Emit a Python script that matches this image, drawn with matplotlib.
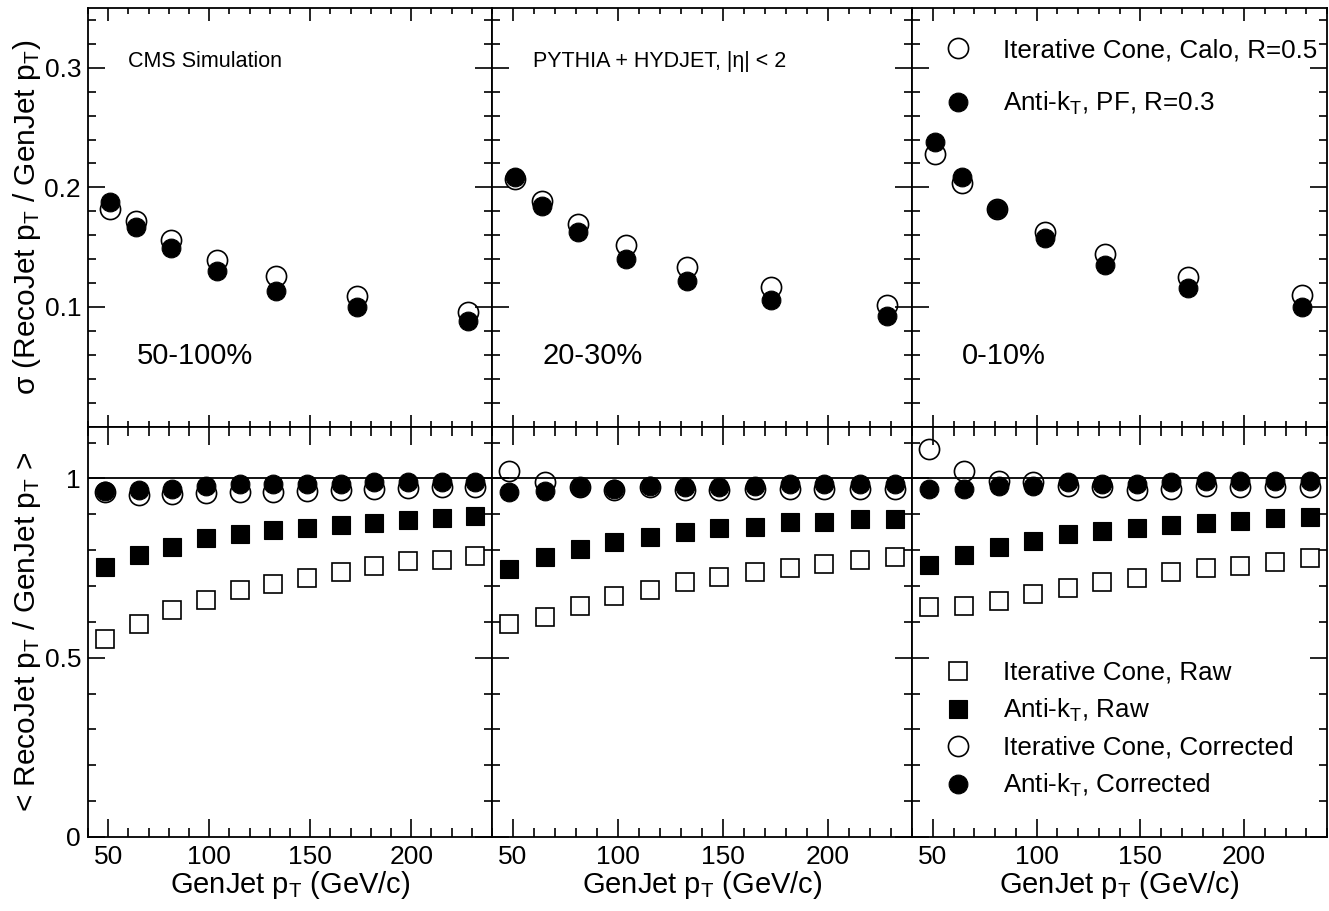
"""CMS Simulation: jet pT resolution and response vs GenJet pT, three centrality bins."""

import matplotlib
matplotlib.use("Agg")
import matplotlib.pyplot as plt
from matplotlib.lines import Line2D
from matplotlib.ticker import FixedLocator, MultipleLocator

plt.rcParams["font.family"] = ["Liberation Sans", "DejaVu Sans"]
plt.rcParams["mathtext.fontset"] = "custom"
plt.rcParams["mathtext.rm"] = "Liberation Sans"
plt.rcParams["mathtext.it"] = "Liberation Sans:italic"
plt.rcParams["mathtext.bf"] = "Liberation Sans:bold"
plt.rcParams["axes.linewidth"] = 1.3

# --- data ---
CENTRALITY = ["50-100%", "20-30%", "0-10%"]

# top row: sigma(RecoJet pT / GenJet pT)
PT_RES = [51, 64, 81, 104, 133, 173, 228]
RES_IC_CALO = [
    [0.182, 0.172, 0.156, 0.139, 0.126, 0.109, 0.096],
    [0.207, 0.189, 0.169, 0.152, 0.133, 0.117, 0.102],
    [0.228, 0.204, 0.182, 0.163, 0.144, 0.125, 0.110],
]
RES_AK_PF = [
    [0.188, 0.167, 0.149, 0.130, 0.113, 0.100, 0.088],
    [0.209, 0.184, 0.163, 0.140, 0.122, 0.106, 0.092],
    [0.238, 0.209, 0.182, 0.158, 0.135, 0.116, 0.100],
]

# bottom row: <RecoJet pT / GenJet pT>
PT_RESP = [48.3, 65.0, 81.7, 98.3, 115.0, 131.7, 148.3, 165.0, 181.7, 198.3, 215.0, 231.7]
IC_RAW = [
    [0.553, 0.594, 0.633, 0.661, 0.689, 0.706, 0.723, 0.738, 0.757, 0.769, 0.773, 0.785],
    [0.594, 0.615, 0.645, 0.673, 0.689, 0.710, 0.724, 0.738, 0.750, 0.761, 0.773, 0.780],
    [0.641, 0.645, 0.659, 0.678, 0.695, 0.710, 0.723, 0.738, 0.750, 0.757, 0.766, 0.778],
]
AK_RAW = [
    [0.754, 0.787, 0.810, 0.834, 0.845, 0.856, 0.862, 0.871, 0.877, 0.884, 0.890, 0.894],
    [0.748, 0.782, 0.803, 0.822, 0.838, 0.850, 0.862, 0.866, 0.878, 0.878, 0.887, 0.887],
    [0.760, 0.787, 0.810, 0.826, 0.845, 0.854, 0.862, 0.871, 0.877, 0.882, 0.890, 0.893],
]
IC_CORR = [
    [0.962, 0.955, 0.958, 0.960, 0.962, 0.963, 0.966, 0.968, 0.972, 0.974, 0.975, 0.977],
    [1.021, 0.991, 0.975, 0.968, 0.975, 0.968, 0.968, 0.970, 0.970, 0.970, 0.970, 0.970],
    [1.082, 1.021, 0.994, 0.989, 0.980, 0.975, 0.968, 0.970, 0.980, 0.975, 0.975, 0.975],
]
AK_CORR = [
    [0.964, 0.968, 0.972, 0.978, 0.985, 0.985, 0.986, 0.986, 0.990, 0.990, 0.990, 0.991],
    [0.961, 0.966, 0.975, 0.970, 0.980, 0.977, 0.977, 0.980, 0.984, 0.984, 0.986, 0.986],
    [0.970, 0.970, 0.980, 0.980, 0.989, 0.984, 0.984, 0.989, 0.994, 0.994, 0.994, 0.994],
]

# --- styles ---
OPEN_C = dict(marker="o", ls="none", mfc="none", mec="k", ms=14.5, mew=1.2)
FULL_C = dict(marker="o", ls="none", mfc="k", mec="k", ms=13.5, mew=0.8)
OPEN_S = dict(marker="s", ls="none", mfc="none", mec="k", ms=13.5, mew=1.2)
FULL_S = dict(marker="s", ls="none", mfc="k", mec="k", ms=13.5, mew=0.8)

W, H = 1329, 911
EDGES = [88, 492, 912, 1327]
Y_TOP, Y_MID, Y_BOT = 8, 426.5, 837

XLAB = r"GenJet p$_{\rm T}$ (GeV/c)"
TICK_FS = 19

fig = plt.figure(figsize=(W / 100, H / 100), dpi=100)
fig.patch.set_facecolor("white")


def style_x(ax, maj, mnr):
    ax.set_xlim(40, 240)
    ax.xaxis.set_major_locator(FixedLocator([50, 100, 150, 200]))
    ax.xaxis.set_minor_locator(MultipleLocator(10))
    ax.tick_params(axis="x", which="major", length=maj, width=1.2)
    ax.tick_params(axis="x", which="minor", length=mnr, width=1.2)
    ax.tick_params(axis="both", which="both", direction="in",
                   top=True, right=True, labelsize=TICK_FS)


for i in range(3):
    l, r = EDGES[i], EDGES[i + 1]
    axt = fig.add_axes([l / W, 1 - Y_MID / H, (r - l) / W, (Y_MID - Y_TOP) / H])
    axb = fig.add_axes([l / W, 1 - Y_BOT / H, (r - l) / W, (Y_BOT - Y_MID) / H])

    # ---------- top: resolution ----------
    axt.plot(PT_RES, RES_IC_CALO[i], **OPEN_C)
    axt.plot(PT_RES, RES_AK_PF[i], **FULL_C)
    style_x(axt, 9, 4.5)
    axt.set_ylim(0, 0.35)
    axt.yaxis.set_major_locator(FixedLocator([0.1, 0.2, 0.3]))
    axt.yaxis.set_minor_locator(MultipleLocator(0.02))
    axt.tick_params(axis="y", which="major", length=12, width=1.2, pad=5)
    axt.tick_params(axis="y", which="minor", length=6, width=1.2)
    axt.tick_params(labelbottom=False)
    axt.set_yticklabels(["0.1", "0.2", "0.3"])
    axt.text(0.12, 1 - (364 - Y_TOP) / (Y_MID - Y_TOP), CENTRALITY[i],
             transform=axt.transAxes, fontsize=21, va="baseline", ha="left")

    # ---------- bottom: response ----------
    axb.axhline(1.0, color="k", lw=1.3, zorder=1)
    axb.plot(PT_RESP, IC_RAW[i], **OPEN_S)
    axb.plot(PT_RESP, AK_RAW[i], **FULL_S)
    axb.plot(PT_RESP, IC_CORR[i], **OPEN_C)
    axb.plot(PT_RESP, AK_CORR[i], **FULL_C)
    style_x(axb, 13, 6.5)
    axb.set_ylim(0, 1.145)
    axb.yaxis.set_major_locator(FixedLocator([0, 0.5, 1]))
    axb.yaxis.set_minor_locator(MultipleLocator(0.1))
    axb.tick_params(axis="y", which="major", length=12, width=1.2, pad=5)
    axb.tick_params(axis="y", which="minor", length=6, width=1.2)
    axb.tick_params(axis="x", pad=6)
    axb.set_yticklabels(["0", "0.5", "1"])
    axb.set_xlabel(XLAB, fontsize=21, va="baseline")
    axb.xaxis.set_label_coords(0.5, -(893 - Y_BOT) / (Y_BOT - Y_MID))

    if i == 0:
        axt.set_ylabel(r"σ (RecoJet p$_{\rm T}$ / GenJet p$_{\rm T}$)",
                       fontsize=21.5, ha="center", va="center")
        axt.yaxis.set_label_coords(-(l - 27) / (r - l), 0.5)
        axb.set_ylabel(r"< RecoJet p$_{\rm T}$ / GenJet p$_{\rm T}$ >",
                       fontsize=21.5, ha="center", va="center")
        axb.yaxis.set_label_coords(-(l - 27) / (r - l), 0.5)
        axt.text(0.099, 1 - (67 - Y_TOP) / (Y_MID - Y_TOP), "CMS Simulation",
                 transform=axt.transAxes, fontsize=15.5, va="baseline")
    else:
        axt.tick_params(labelleft=False)
        axb.tick_params(labelleft=False)

    if i == 1:
        axt.text(0.098, 1 - (67 - Y_TOP) / (Y_MID - Y_TOP),
                 "PYTHIA + HYDJET, |η| < 2",
                 transform=axt.transAxes, fontsize=15.5, va="baseline")

    if i == 2:
        h_top = [Line2D([], [], **OPEN_C), Line2D([], [], **FULL_C)]
        axt.legend(h_top,
                   ["Iterative Cone, Calo, R=0.5", r"Anti-k$_{\rm T}$, PF, R=0.3"],
                   loc="upper left", bbox_to_anchor=(0.086, 0.928),
                   frameon=False, fontsize=18.7, borderpad=0, borderaxespad=0,
                   handlelength=0.8, handletextpad=1.33, labelspacing=1.08)
        h_bot = [Line2D([], [], **OPEN_S), Line2D([], [], **FULL_S),
                 Line2D([], [], **OPEN_C), Line2D([], [], **FULL_C)]
        axb.legend(h_bot,
                   ["Iterative Cone, Raw", r"Anti-k$_{\rm T}$, Raw",
                    "Iterative Cone, Corrected", r"Anti-k$_{\rm T}$, Corrected"],
                   loc="upper left", bbox_to_anchor=(0.086, 0.429),
                   frameon=False, fontsize=18.7, borderpad=0, borderaxespad=0,
                   handlelength=0.8, handletextpad=1.33, labelspacing=0.46)

fig.savefig("out.png", dpi=100, facecolor="white")
plt.close(fig)
